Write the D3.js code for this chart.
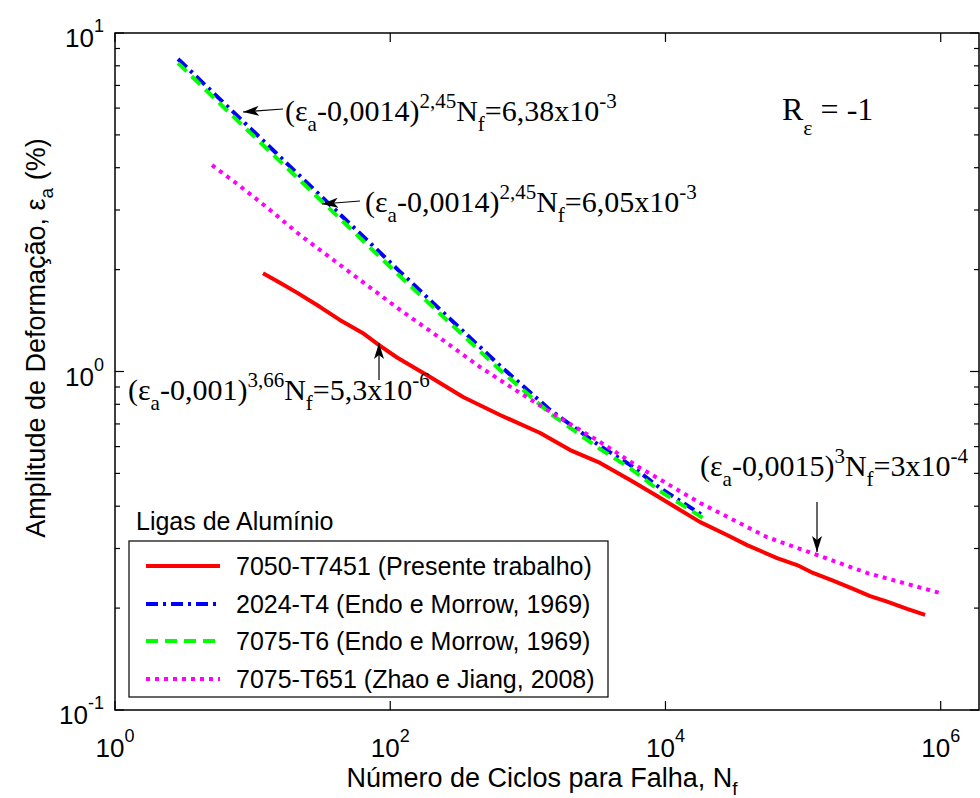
<!DOCTYPE html>
<html><head><meta charset="utf-8">
<script src="https://cdn.jsdelivr.net/npm/d3@7"></script>
<style>body{margin:0;background:#fff}svg{display:block}</style>
</head><body>
<svg id="c" width="980" height="798"></svg>
<script>
// ---- data ----
const seriesNames = ["7050-T7451 (Presente trabalho)","2024-T4 (Endo e Morrow, 1969)","7075-T6 (Endo e Morrow, 1969)","7075-T651 (Zhao e Jiang, 2008)"];
const red_N   = [11.9,15.8,21,31,43,63,82,112,195,338,628,1230,2030,3350,5530,8690,12100,17900,28000,39200,64700,90400,118000,165000,231000,307000,408000,570000,770000];
const red_e   = [1.95,1.83,1.71,1.55,1.42,1.30,1.20,1.10,0.963,0.841,0.744,0.658,0.586,0.537,0.478,0.429,0.395,0.359,0.329,0.307,0.281,0.268,0.254,0.241,0.228,0.217,0.209,0.199,0.191];
const blue_N  = [2.87,4.15,9.57,22.1,51,118,272,628,1450,3350,5530,9140,19400];
const blue_e  = [8.38,7.26,5.24,3.78,2.73,1.97,1.43,1.04,0.770,0.602,0.530,0.4525,0.372];
const green_N = [2.87,4.15,9.57,22.1,51,118,272,628,1450,3350,5530,9140,20000];
const green_e = [8.15,7.05,5.08,3.67,2.65,1.91,1.39,1.01,0.752,0.590,0.518,0.443,0.363];
const mag_N   = [5.07,8.10,13.4,22.1,30.9,60.3,118,230,449,878,1714,3350,6540,17850,54750,126400,291700,990000];
const mag_e   = [4.07,3.53,3.00,2.53,2.285,1.864,1.52,1.256,1.031,0.864,0.729,0.619,0.519,0.409,0.324,0.287,0.254,0.2216];
const xTicks = [1,1e2,1e4,1e6];
const xTickExp = ["0","2","4","6"];
const yTicks = [0.1,1,10];
const yTickExp = ["-1","0","1"];

const svg = d3.select("#c");
const L=115, R=979, T=33, B=710;
const x = d3.scaleLog().domain([1,1e6]).range([L,940.7]);
const y = d3.scaleLog().domain([0.1,10]).range([B,T]);

// frame
svg.append("rect").attr("x",L).attr("y",T).attr("width",R-L).attr("height",B-T)
  .attr("fill","none").attr("stroke","#000").attr("stroke-width",1.5);

// x ticks
xTicks.forEach(v=>{
  svg.append("line").attr("x1",x(v)).attr("x2",x(v)).attr("y1",B).attr("y2",B-9).attr("stroke","#000").attr("stroke-width",1.2);
  svg.append("line").attr("x1",x(v)).attr("x2",x(v)).attr("y1",T).attr("y2",T+9).attr("stroke","#000").attr("stroke-width",1.2);
});
// y ticks major + minor
const yMinor=[];
[0.1,1].forEach(d=>{for(let k=2;k<=9;k++) yMinor.push(d*k);});
yTicks.forEach(v=>{
  svg.append("line").attr("x1",L).attr("x2",L+9).attr("y1",y(v)).attr("y2",y(v)).attr("stroke","#000").attr("stroke-width",1.2);
  svg.append("line").attr("x1",R).attr("x2",R-9).attr("y1",y(v)).attr("y2",y(v)).attr("stroke","#000").attr("stroke-width",1.2);
});
yMinor.forEach(v=>{
  svg.append("line").attr("x1",L).attr("x2",L+5).attr("y1",y(v)).attr("y2",y(v)).attr("stroke","#000").attr("stroke-width",1.2);
  svg.append("line").attr("x1",R).attr("x2",R-5).attr("y1",y(v)).attr("y2",y(v)).attr("stroke","#000").attr("stroke-width",1.2);
});

const sans = "Liberation Sans, Arial, sans-serif";
const serif = "Liberation Serif, Times New Roman, serif";

// tick labels
xTicks.forEach((v,i)=>{
  const t = svg.append("text").attr("x",x(v)).attr("y",757).attr("text-anchor","middle")
    .attr("font-family",sans).attr("font-size",26);
  t.append("tspan").text("10");
  t.append("tspan").attr("dy",-15).attr("font-size",18).text(xTickExp[i]);
});
yTicks.forEach((v,i)=>{
  const t = svg.append("text").attr("x",104).attr("y",y(v)+14).attr("text-anchor","end")
    .attr("font-family",sans).attr("font-size",26);
  t.append("tspan").text("10");
  t.append("tspan").attr("dy",-15).attr("font-size",18).text(yTickExp[i]);
});

// rich text helper: segments [text, mode] mode 0 normal, 1 sub, 2 sup
function rich(sel, segs, size, small, subOff, supOff){
  let cur=0;
  segs.forEach(([txt,m])=>{
    const target = m===1?subOff:(m===2?-supOff:0);
    sel.append("tspan").attr("dy",target-cur).attr("font-size",m?small:size).text(txt);
    cur=target;
  });
}

// axis labels
const xl = svg.append("text").attr("x",542).attr("y",787).attr("text-anchor","middle")
  .attr("font-family",sans).attr("font-size",27);
rich(xl,[["Número de Ciclos para Falha, N",0],["f",1]],27,19,8,12);
const yl = svg.append("text").attr("transform","translate(45,338) rotate(-90)").attr("text-anchor","middle")
  .attr("font-family",sans).attr("font-size",27);
rich(yl,[["Amplitude de Deformação, ε",0],["a",1],[" (%)",0]],27,19,8,12);

// series
const series = [
  {N:red_N,e:red_e,color:"#ff0000",dash:null},
  {N:blue_N,e:blue_e,color:"#0000ff",dash:"12,5,3,5"},
  {N:green_N,e:green_e,color:"#00ff00",dash:"12,7"},
  {N:mag_N,e:mag_e,color:"#ff00ff",dash:"4,5"}
];
const line = d3.line().x(d=>x(d[0])).y(d=>y(d[1]));
series.forEach(s=>{
  const pts = s.N.map((n,i)=>[n,s.e[i]]);
  const p = svg.append("path").attr("d",line(pts)).attr("fill","none")
    .attr("stroke",s.color).attr("stroke-width",4).attr("stroke-linejoin","round");
  if(s.dash) p.attr("stroke-dasharray",s.dash);
});

// arrows
svg.append("defs").append("marker").attr("id","ah").attr("viewBox","0 0 16 10")
  .attr("refX",16).attr("refY",5).attr("markerWidth",16).attr("markerHeight",10)
  .attr("markerUnits","userSpaceOnUse").attr("orient","auto")
  .append("path").attr("d","M0,0 L16,5 L0,10 L4,5 Z").attr("fill","#000");
const arrows = [[283,109,243,112],[360,201,322,204],[379,380,379,343],[817,502,817,552]];
arrows.forEach(a=>{
  svg.append("line").attr("x1",a[0]).attr("y1",a[1]).attr("x2",a[2]).attr("y2",a[3])
    .attr("stroke","#000").attr("stroke-width",1.2).attr("marker-end","url(#ah)");
});

// annotations
function ann(xp,yp,segs,size,small,subOff,supOff){
  const t = svg.append("text").attr("x",xp).attr("y",yp).attr("font-family",serif).attr("font-size",size);
  rich(t,segs,size,small||size*0.7,subOff||size*0.33,supOff||size*0.42);
}
ann(285,121,[["(ε",0],["a",1],["-0,0014)",0],["2,45",2],["N",0],["f",1],["=6,38x10",0],["-3",2]],30);
ann(365,212,[["(ε",0],["a",1],["-0,0014)",0],["2,45",2],["N",0],["f",1],["=6,05x10",0],["-3",2]],30);
ann(128,400,[["(ε",0],["a",1],["-0,001)",0],["3,66",2],["N",0],["f",1],["=5,3x10",0],["-6",2]],30);
ann(700,476,[["(ε",0],["a",1],["-0,0015)",0],["3",2],["N",0],["f",1],["=3x10",0],["-4",2]],30);
ann(782,120,[["R",0],["ε",1],[" = -1",0]],32,22,15,12);

// legend
svg.append("text").attr("x",136).attr("y",530).attr("font-family",sans).attr("font-size",25).text("Ligas de Alumínio");
svg.append("rect").attr("x",129).attr("y",541).attr("width",479).attr("height",156)
  .attr("fill","#fff").attr("stroke","#000").attr("stroke-width",1.2);
const ly=[566,604,641,679];
series.forEach((s,i)=>{
  const l = svg.append("line").attr("x1",146).attr("x2",220).attr("y1",ly[i]).attr("y2",ly[i])
    .attr("stroke",s.color).attr("stroke-width",4);
  if(s.dash) l.attr("stroke-dasharray",s.dash);
  svg.append("text").attr("x",236).attr("y",ly[i]+9).attr("font-family",sans).attr("font-size",25).text(seriesNames[i]);
});
</script>
</body></html>
